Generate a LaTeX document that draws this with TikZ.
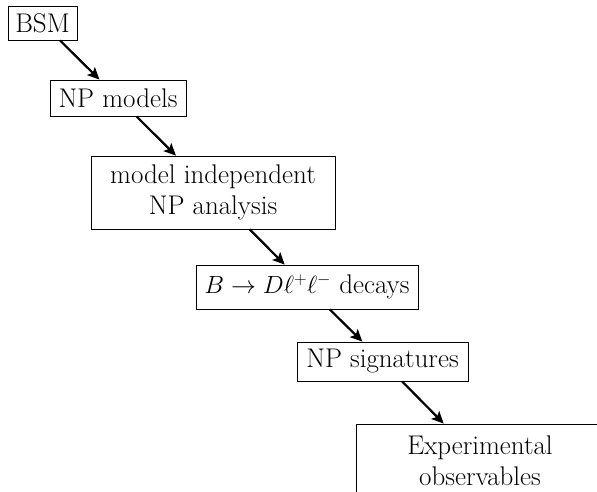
\documentclass[tikz,border=0pt]{standalone}
\usetikzlibrary{arrows.meta}
\begin{document}
\begin{tikzpicture}[x=1pt,y=-1pt,
  box/.style={draw,line width=0.8pt,align=center,inner sep=0pt,font=\fontsize{27}{31}\selectfont},
  arr/.style={line width=2.2pt,-{Stealth[length=12pt,width=11pt,inset=2.5pt]}}]
\useasboundingbox (0,0) rectangle (597,491);
\clip (0,0) rectangle (597,491);
\node[box,minimum width=69pt,minimum height=34pt] (bsm) at (42.5,23) {BSM};
\node[box,minimum width=136pt,minimum height=36pt] (npm) at (118,98) {NP models};
\node[box,minimum width=244pt,minimum height=73pt] (mi) at (213,192.5) {model independent\\NP analysis};
\node[box,minimum width=222pt,minimum height=44pt] (bd) at (307,287) {$B\to D\ell^+\ell^-$ decays};
\node[box,minimum width=171pt,minimum height=39pt] (sig) at (382.5,361.5) {NP signatures};
\node[box,minimum width=248pt,minimum height=73pt] (exp) at (480,460.5) {Experimental\\observables};
\draw[arr] (bsm) -- (npm);
\draw[arr] (npm) -- (mi);
\draw[arr] (mi) -- (bd);
\draw[arr] (bd) -- (sig);
\draw[arr] (sig) -- (exp);
\end{tikzpicture}
\end{document}
